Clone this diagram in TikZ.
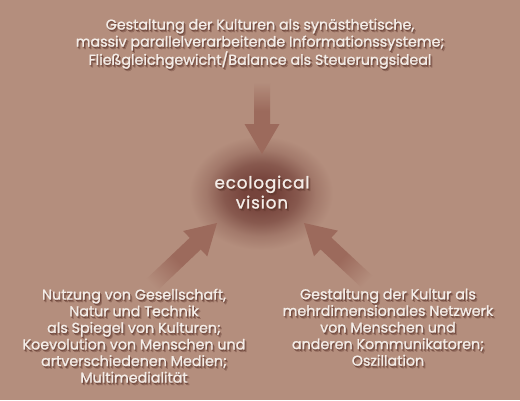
\documentclass[tikz,border=0pt]{standalone}
\usepackage{fontspec}
\setmainfont{Poppins}[FakeBold=1.3]
\definecolor{bg}{HTML}{B48E7D}
\definecolor{arr}{HTML}{9C6A5C}
\definecolor{glowc}{HTML}{76443C}
\definecolor{txt}{HTML}{F4EDE8}
\definecolor{shd}{HTML}{5E362C}
\pgfdeclarehorizontalshading{arrfade}{100bp}{color(0bp)=(bg); color(25bp)=(bg); color(45bp)=(arr); color(100bp)=(arr)}
\pgfdeclareradialshading{glow}{\pgfpoint{0bp}{0bp}}{color(0bp)=(glowc); color(6bp)=(glowc); color(13bp)=(glowc!72!bg); color(19bp)=(glowc!28!bg); color(25bp)=(bg); color(50bp)=(bg)}
\newcommand\softtext[4]{%
  \node[#3, text=shd, opacity=0.30, xshift=2pt, yshift=-2.5pt] (#1s1) at (#2) {#4};
  \node[#3, text=shd, opacity=0.55, xshift=1pt, yshift=-1.5pt] (#1s2) at (#2) {#4};
  \node[#3] (#1) at (#2) {#4};
}
\newcommand\blockarrow[3]{% tip, angle, length
  \begin{scope}[transform canvas={shift={(#1)}, rotate=#2}]
    \shade[shading=arrfade] (-#3,-8) -- (-30,-8) -- (-30,-17.5) -- (0,0) -- (-30,17.5) -- (-30,8) -- (-#3,8) -- cycle;
  \end{scope}
}
\begin{document}
\begin{tikzpicture}[x=1pt,y=-1pt,
  lbl/.style={align=center, text=txt, inner sep=0pt, anchor=north, font=\fontsize{14.3}{16.6}\selectfont},
  lblt/.style={lbl, font=\fontsize{14.3}{17}\selectfont},
  lblc/.style={align=center, text=txt, inner sep=0pt, anchor=north, font=\fontsize{16.8}{20}\selectfont\addfontfeatures{LetterSpace=5}}]
\fill[bg] (0,0) rectangle (520,400);
\useasboundingbox (0,0) rectangle (520,400);
% glow
\shade[shading=glow] (261,193) ellipse [x radius=72, y radius=57];
% coordinates
\coordinate (tipTop) at (262,154);
\coordinate (tipL) at (217,223);
\coordinate (tipR) at (304,223);
% arrows
\blockarrow{tipTop}{-90}{72}
\blockarrow{tipL}{43.5}{90}
\blockarrow{tipR}{137}{86}
% texts
\softtext{top}{260,18.5}{lblt}{Gestaltung der Kulturen als synästhetische,\\massiv parallelverarbeitende Informationssysteme;\\Fließgleichgewicht/Balance als Steuerungsideal}
\softtext{center}{262,175.5}{lblc}{ecological\\vision}
\softtext{left}{134,288.5}{lbl}{Nutzung von Gesellschaft,\\Natur und Technik\\als Spiegel von Kulturen;\\Koevolution von Menschen und\\artverschiedenen Medien;\\Multimedialität}
\softtext{right}{388,288.5}{lbl}{Gestaltung der Kultur als\\mehrdimensionales Netzwerk\\von Menschen und\\anderen Kommunikatoren;\\Oszillation}
\end{tikzpicture}
\end{document}
